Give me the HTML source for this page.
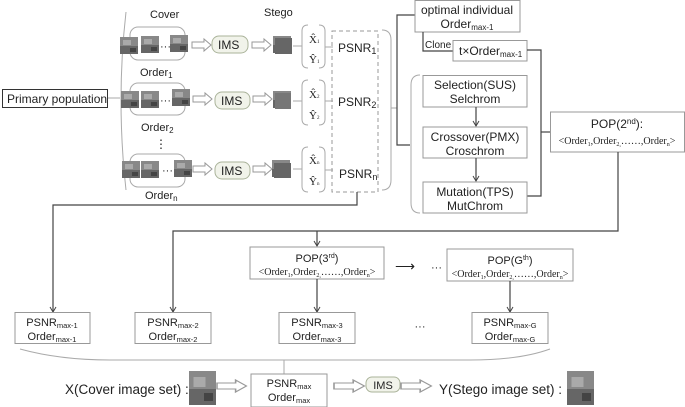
<!DOCTYPE html>
<html><head><meta charset="utf-8"><style>
html,body{margin:0;padding:0;background:#fff;}
svg{display:block;font-family:"Liberation Sans",sans-serif;}
text{fill:#222;}
.b{fill:#fff;stroke:#999;stroke-width:1;}
.l{stroke:#444;stroke-width:1.2;fill:none;}
.g{stroke:#aaa;stroke-width:1;fill:none;}
.ser{font-family:"Liberation Serif",serif;}
</style></head><body>
<svg width="685" height="407" viewBox="0 0 685 407" xmlns="http://www.w3.org/2000/svg">
<defs>
<marker id="ar" markerWidth="8" markerHeight="8" refX="6" refY="4" orient="auto" markerUnits="userSpaceOnUse"><path d="M1,1 L6,4 L1,7" fill="none" stroke="#444" stroke-width="1"/></marker>
<g id="ha"><path d="M0,-3 H12 V-6 L19,0 L12,6 V3 H0 Z" fill="#fff" stroke="#999" stroke-width="1"/></g>
<g id="img"><rect width="18" height="17" fill="#888"/><rect y="9" width="18" height="8" fill="#666"/><rect x="3" y="3" width="8" height="5" fill="#aaa"/><rect x="10" y="11" width="6" height="4" fill="#444"/></g>
</defs>

<rect x="2.5" y="89.5" width="105" height="18" fill="#fff" stroke="#333"/>
<text x="7" y="103" font-size="12">Primary population</text>
<line class="g" x1="108" y1="98" x2="120" y2="98"/>
<path class="g" d="M126,12 Q116,100 126,190"/>

<text x="150" y="18" font-size="11">Cover</text>
<text x="264" y="16" font-size="11">Stego</text>

<g>
<rect class="g" x="130" y="27" width="55" height="33" rx="8"/>
<use href="#img" x="120" y="37"/><use href="#img" x="141" y="36"/><text x="160" y="50" font-size="11">···</text><use href="#img" x="170" y="35"/>
<use href="#ha" x="192" y="45"/>
<rect x="212" y="36" width="36" height="17" rx="7" fill="#f1f3ea" stroke="#aab39a"/><text x="218" y="49" font-size="12">IMS</text>
<use href="#ha" x="252" y="45"/>
<use href="#img" x="273" y="36"/><rect x="275" y="38" width="17" height="16" fill="#666"/>
<text x="140" y="76" font-size="11">Order<tspan font-size="8" dy="2">1</tspan></text>
</g>
<g>
<rect class="g" x="130" y="83" width="55" height="32" rx="8"/>
<use href="#img" x="121" y="91"/><use href="#img" x="141" y="91"/><text x="160" y="104" font-size="11">···</text><use href="#img" x="172" y="89"/>
<use href="#ha" x="193" y="99"/>
<rect x="215" y="92" width="35" height="17" rx="7" fill="#f1f3ea" stroke="#aab39a"/><text x="221" y="105" font-size="12">IMS</text>
<use href="#ha" x="253" y="99"/>
<use href="#img" x="273" y="91"/><rect x="275" y="93" width="16" height="16" fill="#777"/>
<text x="141" y="131" font-size="11">Order<tspan font-size="8" dy="2">2</tspan></text>
</g>
<text x="155" y="148" font-size="12">⋮</text>
<g>
<rect class="g" x="130" y="154" width="55" height="33" rx="8"/>
<use href="#img" x="122" y="161"/><use href="#img" x="141" y="161"/><text x="162" y="174" font-size="11">···</text><use href="#img" x="174" y="160"/>
<use href="#ha" x="193" y="169"/>
<rect x="215" y="162" width="35" height="17" rx="7" fill="#f1f3ea" stroke="#aab39a"/><text x="221" y="175" font-size="12">IMS</text>
<use href="#ha" x="253" y="169"/>
<use href="#img" x="272" y="160"/><rect x="274" y="163" width="17" height="15" fill="#666"/>
<text x="145" y="199" font-size="11">Order<tspan font-size="8" dy="2">n</tspan></text>
</g>

<g font-size="11" class="ser">
<line class="g" x1="293" y1="46" x2="302" y2="46"/>
<path class="g" d="M308,25 Q302,25 302,31 V62 Q302,68 308,68 M319,25 Q325,25 325,31 V62 Q325,68 319,68"/>
<text x="309" y="43" class="ser">X̂<tspan font-size="5">1</tspan></text><text x="309" y="63" class="ser">Ŷ<tspan font-size="5">1</tspan></text>
<line class="g" x1="325" y1="47" x2="333" y2="47"/>
<line class="g" x1="293" y1="101" x2="302" y2="101"/>
<path class="g" d="M308,80 Q302,80 302,86 V119 Q302,125 308,125 M319,80 Q325,80 325,86 V119 Q325,125 319,125"/>
<text x="309" y="98">X̂<tspan font-size="5">2</tspan></text><text x="309" y="119">Ŷ<tspan font-size="5">2</tspan></text>
<line class="g" x1="325" y1="101" x2="333" y2="101"/>
<line class="g" x1="293" y1="169" x2="302" y2="169"/>
<path class="g" d="M308,147 Q302,147 302,153 V186 Q302,192 308,192 M319,147 Q325,147 325,153 V186 Q325,192 319,192"/>
<text x="309" y="164">X̂<tspan font-size="5">n</tspan></text><text x="309" y="185">Ŷ<tspan font-size="5">n</tspan></text>
<line class="g" x1="325" y1="170" x2="333" y2="170"/>
</g>
<rect x="332" y="31" width="46" height="161" fill="none" stroke="#999" stroke-dasharray="4,3"/>
<g font-size="12"><text x="338" y="52">PSNR<tspan font-size="9" dy="2">1</tspan></text>
<text x="338" y="106">PSNR<tspan font-size="9" dy="2">2</tspan></text>
<text x="339" y="178">PSNR<tspan font-size="9" dy="2">n</tspan></text></g>
<path class="g" d="M382,30 Q391,30 391,40 V180 Q391,190 382,190"/>
<line class="g" x1="391" y1="108" x2="397" y2="108"/>

<path class="l" d="M415,15 H397 V145 H410"/>
<rect class="b" x="415" y="0.5" width="105" height="31.5"/>
<text x="467" y="14" font-size="12" text-anchor="middle">optimal individual</text>
<text x="467" y="28" font-size="12" text-anchor="middle">Order<tspan font-size="8" dy="2">max-1</tspan></text>
<path class="l" d="M423,32 V51 H453"/>
<text x="425" y="48" font-size="10">Clone</text>
<rect class="b" x="453" y="40.5" width="74" height="20.5"/>
<text x="459" y="55" font-size="12">t×Order<tspan font-size="8" dy="2">max-1</tspan></text>
<path class="l" d="M527,50 H541 V196 H527"/>
<line class="l" x1="541" y1="132" x2="550" y2="132"/>
<path class="g" d="M420,75 Q411,75 411,85 V203 Q411,213 420,213"/>
<g font-size="12" text-anchor="middle">
<rect class="b" x="423" y="75.5" width="104" height="31.5"/><text x="475" y="89">Selection(SUS)</text><text x="475" y="103">Selchrom</text>
<line class="l" x1="476" y1="107" x2="476" y2="126" marker-end="url(#ar)"/>
<rect class="b" x="423" y="127" width="104" height="31"/><text x="475" y="141">Crossover(PMX)</text><text x="475" y="155">Croschrom</text>
<line class="l" x1="476" y1="158" x2="476" y2="181" marker-end="url(#ar)"/>
<rect class="b" x="423" y="182" width="104" height="31"/><text x="475" y="196">Mutation(TPS)</text><text x="475" y="210">MutChrom</text>
</g>
<rect class="b" x="550.5" y="112" width="134" height="40"/>
<text x="617" y="128" font-size="12" text-anchor="middle">POP(2<tspan font-size="8" dy="-4">nd</tspan><tspan dy="4">):</tspan></text>
<text x="617" y="144" font-size="10" class="ser" text-anchor="middle">&lt;Order<tspan font-size="6" dy="2">1</tspan><tspan dy="-2">,Order</tspan><tspan font-size="6" dy="2">2,</tspan><tspan dy="-2">……,Order</tspan><tspan font-size="6" dy="2">n</tspan><tspan dy="-2">&gt;</tspan></text>

<path class="l" d="M357,192 V205 H53 V312" marker-end="url(#ar)"/>
<path class="l" d="M618,152 V231 H173 V312" marker-end="url(#ar)"/>
<line class="l" x1="317" y1="231" x2="317" y2="246" marker-end="url(#ar)"/>

<rect class="b" x="250" y="247" width="134" height="32"/>
<text x="317" y="262" font-size="11" text-anchor="middle">POP(3<tspan font-size="7" dy="-4">rd</tspan><tspan dy="4">)</tspan></text>
<text x="317" y="275" font-size="10" class="ser" text-anchor="middle">&lt;Order<tspan font-size="6" dy="2">1</tspan><tspan dy="-2">,Order</tspan><tspan font-size="6" dy="2">2,</tspan><tspan dy="-2">……,Order</tspan><tspan font-size="6" dy="2">n</tspan><tspan dy="-2">&gt;</tspan></text>
<text x="395" y="271" font-size="14">⟶</text>
<text x="431" y="271" font-size="11">···</text>
<rect class="b" x="447" y="249" width="126" height="32"/>
<text x="510" y="264" font-size="11" text-anchor="middle">POP(G<tspan font-size="7" dy="-4">th</tspan><tspan dy="4">)</tspan></text>
<text x="510" y="277" font-size="10" class="ser" text-anchor="middle">&lt;Order<tspan font-size="6" dy="2">1</tspan><tspan dy="-2">,Order</tspan><tspan font-size="6" dy="2">2,</tspan><tspan dy="-2">……,Order</tspan><tspan font-size="6" dy="2">n</tspan><tspan dy="-2">&gt;</tspan></text>
<line class="l" x1="317" y1="279" x2="317" y2="312" marker-end="url(#ar)"/>
<line class="l" x1="510" y1="281" x2="510" y2="312" marker-end="url(#ar)"/>

<g font-size="11" text-anchor="middle">
<rect class="b" x="15" y="312.5" width="75" height="31"/><text x="52" y="326">PSNR<tspan font-size="7.5" dy="2">max-1</tspan></text><text x="52" y="340">Order<tspan font-size="7.5" dy="2">max-1</tspan></text>
<rect class="b" x="135" y="312.5" width="76" height="31"/><text x="173" y="326">PSNR<tspan font-size="7.5" dy="2">max-2</tspan></text><text x="173" y="340">Order<tspan font-size="7.5" dy="2">max-2</tspan></text>
<rect class="b" x="279" y="312.5" width="76" height="31"/><text x="317" y="326">PSNR<tspan font-size="7.5" dy="2">max-3</tspan></text><text x="317" y="340">Order<tspan font-size="7.5" dy="2">max-3</tspan></text>
<text x="420" y="330">···</text>
<rect class="b" x="472" y="312.5" width="76" height="31"/><text x="510" y="326">PSNR<tspan font-size="7.5" dy="2">max-G</tspan></text><text x="510" y="340">Order<tspan font-size="7.5" dy="2">max-G</tspan></text>
</g>
<path class="g" d="M20,349 Q60,360 110,360 H470 Q520,360 550,349"/>
<line class="g" x1="284" y1="360" x2="284" y2="374"/>

<text x="65" y="394" font-size="13.5">X(Cover image set) :</text>
<g transform="translate(189,371) scale(1.5,2)"><use href="#img"/></g>
<g transform="translate(217,386) scale(1.55,1)"><use href="#ha"/></g>
<rect class="b" x="251" y="374" width="76" height="33"/>
<text x="289" y="387" font-size="11" text-anchor="middle">PSNR<tspan font-size="7.5" dy="2">max</tspan></text>
<text x="289" y="401" font-size="11" text-anchor="middle">Order<tspan font-size="7.5" dy="2">max</tspan></text>
<g transform="translate(334,386) scale(1.6,1)"><use href="#ha"/></g>
<rect x="366" y="377" width="34" height="15" rx="6" fill="#f1f3ea" stroke="#aab39a"/><text x="383" y="389" font-size="11" text-anchor="middle">IMS</text>
<g transform="translate(401,386) scale(1.6,1)"><use href="#ha"/></g>
<text x="439" y="394" font-size="13.5">Y(Stego image set) :</text>
<g transform="translate(567,371) scale(1.5,2)"><use href="#img"/></g>
</svg>
</body></html>
